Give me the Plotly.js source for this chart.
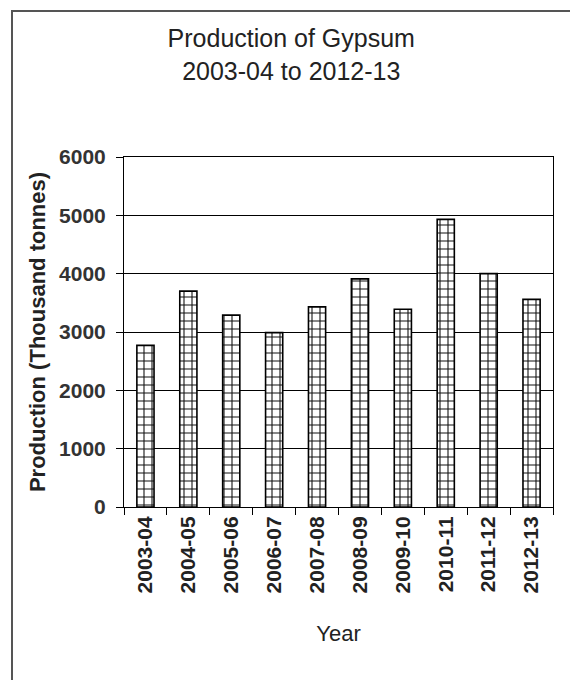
<!DOCTYPE html>
<html>
<head>
<meta charset="utf-8">
<script src="https://cdn.plot.ly/plotly-3.0.1.min.js"></script>
<style>
  html, body { margin: 0; padding: 0; background: #fff; }
  #chart { width: 570px; height: 680px; }
</style>
</head>
<body>
<div id="chart"></div>
<script>
// ---- Data ----
var years = ['2003-04', '2004-05', '2005-06', '2006-07', '2007-08',
             '2008-09', '2009-10', '2010-11', '2011-12', '2012-13'];
var production = [2770, 3700, 3290, 2990, 3430, 3910, 3390, 4930, 4000, 3560];
var yTickValues = [0, 1000, 2000, 3000, 4000, 5000, 6000];
var yTickLabels = ['0', '1000', '2000', '3000', '4000', '5000', '6000'];

// ---- Layout geometry ----
var W = 570, H = 680;
var M = { l: 124, r: 17, t: 157, b: 173 };
var plotW = W - M.l - M.r, plotH = H - M.t - M.b;
function px2x(px) { return (px - M.l) / plotW; }
function py2y(py) { return (H - M.b - py) / plotH; }

var FONT = '"Liberation Sans", Arial, sans-serif';

var trace = {
  type: 'bar',
  x: years,
  y: production,
  marker: {
    color: '#ffffff',
    line: { color: '#000000', width: 1.6 },
    pattern: { shape: '+', size: 8, solidity: 0.25, fgcolor: '#111111', bgcolor: '#ffffff', fillmode: 'replace' }
  },
  hoverinfo: 'x+y'
};

var layout = {
  width: W,
  height: H,
  margin: M,
  paper_bgcolor: '#ffffff',
  plot_bgcolor: '#ffffff',
  showlegend: false,
  bargap: 0.6,
  font: { family: FONT, color: '#333333' },
  title: {
    text: 'Production of Gypsum<br>2003-04 to 2012-13',
    font: { family: FONT, size: 25, color: '#222222', lineposition: 'none' },
    xref: 'container', x: 0.511, xanchor: 'center',
    yref: 'container', y: 1 - 47 / H, yanchor: 'top'
  },
  xaxis: {
    type: 'category',
    tickangle: -90,
    ticks: 'outside',
    tickson: 'boundaries',
    ticklen: 7,
    tickcolor: '#000000',
    tickwidth: 1,
    tickfont: { family: FONT, size: 21, color: '#222222', weight: 'bold' },
    showline: true,
    linecolor: '#000000',
    linewidth: 1,
    mirror: true,
    showgrid: false,
    zeroline: false,
    automargin: false,
    title: {
      text: 'Year',
      font: { family: FONT, size: 22, color: '#222222' },
      standoff: 33
    }
  },
  yaxis: {
    range: [0, 6000],
    tickmode: 'array',
    tickvals: yTickValues,
    ticktext: yTickLabels,
    ticks: 'outside',
    ticklen: 7,
    tickcolor: '#000000',
    tickwidth: 1,
    ticklabelstandoff: 6,
    tickfont: { family: FONT, size: 21, color: '#333333', weight: 'bold' },
    showline: true,
    linecolor: '#000000',
    linewidth: 1,
    mirror: true,
    showgrid: true,
    gridcolor: '#000000',
    gridwidth: 1,
    zeroline: false,
    automargin: false,
    title: {
      text: 'Production (Thousand tonnes)',
      font: { family: FONT, size: 22, color: '#222222', weight: 'bold' },
      standoff: 7
    }
  },
  shapes: [
    { type: 'line', xref: 'paper', yref: 'paper',
      x0: px2x(12), x1: px2x(12), y0: py2y(11), y1: py2y(H + 5),
      line: { color: '#555555', width: 2 } },
    { type: 'line', xref: 'paper', yref: 'paper',
      x0: px2x(11), x1: px2x(W + 5), y0: py2y(11), y1: py2y(11),
      line: { color: '#555555', width: 2 } }
  ]
};

Plotly.newPlot('chart', [trace], layout, { displayModeBar: false, staticPlot: true });
</script>
</body>
</html>
